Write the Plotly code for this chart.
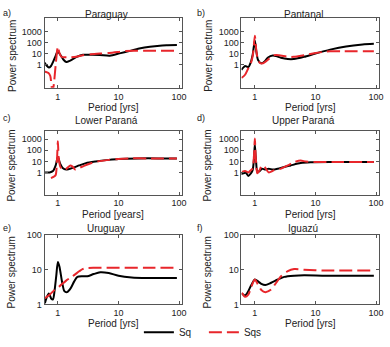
import plotly.graph_objects as go

W, H = 390, 347

# ---------------- data ----------------
panel_names = ["Paraguay", "Pantanal", "Lower Paraná", "Upper Paraná", "Uruguay", "Iguazú"]
panel_letters = ["a)", "b)", "c)", "d)", "e)", "f)"]
x_titles = ["Period [yrs]", "Period [yrs]", "Period [years]", "Period [yrs]", "Period [yrs]", "Period [yrs]"]
x_tick_vals = [1, 10, 100]
y_tick_vals_top = [1, 10, 100, 1000]
y_tick_vals_bottom = [1, 10, 100]

# a) Paraguay
para_sq_p = [0.6, 0.65, 0.71, 0.77, 0.83, 0.9, 0.96, 1.0, 1.05, 1.14, 1.25, 1.38, 1.6, 2.0, 2.6, 3.5, 4.9, 7.2, 10.4, 15, 22, 33, 48, 65, 92]
para_sq_v = [1.6, 0.9, 0.58, 0.8, 1.8, 5, 12, 18.6, 12, 6, 2.8, 1.8, 2.5, 5, 8.3, 8.2, 8, 6.8, 11, 18, 30, 44, 55, 59, 62]
para_sqs_p = [0.6, 0.7, 0.75, 0.79, 0.82, 0.86, 0.92, 1.0, 1.06, 1.14, 1.3, 1.6, 2.0, 2.6, 3.5, 5, 7, 10, 13, 20, 40, 92]
para_sqs_v = [0.26, 0.19, 0.1, 0.01, 0.004, 0.02, 1, 45, 12, 5.5, 5, 5, 5.5, 7.5, 9, 10.5, 12, 15, 18, 18.6, 18.6, 18.6]

# b) Pantanal
pant_sq_p = [0.6, 0.65, 0.69, 0.74, 0.78, 0.85, 0.92, 1.0, 1.06, 1.13, 1.28, 1.45, 1.65, 1.98, 2.25, 2.7, 3.5, 4.4, 6.5, 10, 17.5, 32, 60, 92]
pant_sq_v = [0.36, 0.6, 0.8, 0.7, 0.62, 1.5, 8, 160, 15, 2.8, 1.4, 2, 4.7, 7, 6.2, 4.4, 3.4, 3.4, 5.4, 10.7, 24, 47, 70, 80]
pant_sqs_p = [0.6, 0.69, 0.78, 0.86, 0.93, 1.0, 1.05, 1.1, 1.2, 1.36, 1.75, 2.1, 2.5, 3.5, 4.4, 6.5, 10, 17.5, 30, 92]
pant_sqs_v = [0.066, 0.13, 0.5, 1.4, 8, 440, 30, 5.4, 1.6, 1.4, 3.9, 7.6, 7.6, 5.5, 5.4, 7.6, 12, 17, 17, 17]

# c) Lower Paraná
lpar_sq_p = [0.6, 0.73, 0.83, 0.92, 1.0, 1.09, 1.2, 1.37, 1.76, 2.25, 2.9, 4.2, 6.9, 10, 21, 45, 92]
lpar_sq_v = [1.07, 1.07, 1.4, 4.5, 27, 6.3, 2.7, 1.9, 2.7, 4.5, 7.2, 10, 14, 17, 19, 19, 19]
lpar_sqs_p = [0.77, 0.86, 0.92, 0.97, 1.0, 1.03, 1.1, 1.2, 1.33, 1.6, 1.75, 1.94, 2.3, 2.7, 3.5, 4.5, 6.9, 10, 15, 30, 92]
lpar_sqs_v = [0.33, 0.45, 0.63, 20, 630, 25, 3.3, 2, 1.9, 4.5, 3.5, 1.9, 2.8, 4.1, 7, 10, 14, 17, 19, 19, 19]

# d) Upper Paraná
upar_sq_p = [0.59, 0.65, 0.71, 0.78, 0.86, 0.92, 0.97, 1.0, 1.03, 1.05, 1.1, 1.2, 1.31, 1.49, 1.69, 1.98, 2.4, 3.06, 3.9, 5.7, 8.3, 17.5, 40, 92]
upar_sq_v = [0.77, 0.88, 1.0, 0.52, 0.88, 1.7, 20, 350, 30, 8.8, 1.2, 1.4, 2.3, 1.9, 2.3, 1.9, 2.3, 3.3, 4.5, 7.2, 8.5, 9, 9, 9]
upar_sqs_p = [0.61, 0.69, 0.78, 0.86, 0.92, 0.97, 1.0, 1.03, 1.06, 1.1, 1.2, 1.31, 1.45, 1.69, 2.1, 2.7, 3.5, 4.45, 5.7, 6.9, 9.4, 20, 92]
upar_sqs_v = [1.2, 1.4, 1.07, 1.7, 2.35, 40, 1100, 40, 4.5, 0.88, 1.7, 4.5, 3.3, 1.07, 1.7, 2.3, 4.5, 8.8, 12, 10, 9, 9, 9]

# e) Uruguay
urug_sq_p = [0.61, 0.65, 0.71, 0.78, 0.83, 0.88, 0.94, 1.0, 1.06, 1.18, 1.28, 1.42, 1.64, 1.86, 2.1, 2.55, 3.06, 3.9, 5.0, 6.9, 10, 16.5, 30, 92]
urug_sq_v = [1.07, 1.55, 2.06, 1.45, 1.4, 2.4, 6.5, 16.6, 12.4, 4.2, 2.4, 2.25, 3, 4.6, 6.2, 6.45, 6.45, 7.5, 8.4, 8.0, 6.7, 6.0, 5.8, 5.8]
urug_sqs_p = [0.61, 0.73, 0.88, 1.06, 1.37, 1.75, 2.25, 2.55, 3.06, 4.7, 10, 30, 92]
urug_sqs_v = [1.5, 1.9, 2.6, 3.3, 4.85, 6.45, 9, 10.4, 11.2, 11.3, 11.3, 11.3, 11.3]

# f) Iguazú
igua_sq_p = [0.61, 0.69, 0.78, 0.88, 1.0, 1.13, 1.28, 1.49, 1.86, 2.4, 3.06, 4.45, 6.5, 15, 92]
igua_sq_v = [2.06, 1.8, 2.4, 3.7, 5.2, 4.6, 3.9, 3.6, 4.2, 5.2, 6.2, 6.7, 6.9, 6.7, 6.7]
igua_sqs_p = [0.61, 0.69, 0.78, 0.88, 1.0, 1.13, 1.28, 1.49, 1.86, 2.25, 2.7, 3.5, 4.45, 6.5, 13.7, 92]
igua_sqs_v = [2.15, 1.65, 1.9, 3.3, 5.2, 3.7, 2.6, 2.25, 2.7, 4.2, 6.45, 9.1, 10.4, 10, 9.5, 9.5]

series = [
    (para_sq_p, para_sq_v, para_sqs_p, para_sqs_v),
    (pant_sq_p, pant_sq_v, pant_sqs_p, pant_sqs_v),
    (lpar_sq_p, lpar_sq_v, lpar_sqs_p, lpar_sqs_v),
    (upar_sq_p, upar_sq_v, upar_sqs_p, upar_sqs_v),
    (urug_sq_p, urug_sq_v, urug_sqs_p, urug_sqs_v),
    (igua_sq_p, igua_sq_v, igua_sqs_p, igua_sqs_v),
]

# ---------------- layout ----------------
FONT = "Liberation Sans, Arial, Helvetica, sans-serif"
TXT = "#222"
col_px = [(45, 184), (244, 383)]
row_px = [(14, 86), (131, 197), (239, 311)]
y_ranges = [[-2.06, 4.19], [-1.95, 3.71], [0, 2]]
x_range = [-0.22, 2.05]

RED = "#e8262b"

fig = go.Figure()
annotations = []


def px_x(x):
    return x / W


def px_y(y):
    return 1 - y / H


for i in range(6):
    r, c = divmod(i, 2)
    n = i + 1
    xa = "x" if n == 1 else f"x{n}"
    ya = "y" if n == 1 else f"y{n}"
    sq_p, sq_v, sqs_p, sqs_v = series[i]
    fig.add_trace(go.Scatter(x=sq_p, y=sq_v, mode="lines", name="Sq",
                             line=dict(color="black", width=2, shape="spline", smoothing=0.7),
                             showlegend=(i == 0), xaxis=xa, yaxis=ya))
    fig.add_trace(go.Scatter(x=sqs_p, y=sqs_v, mode="lines", name="Sqs",
                             line=dict(color=RED, width=2, dash="13px,5px", shape="spline", smoothing=0.7),
                             showlegend=(i == 0), xaxis=xa, yaxis=ya))
    x0, x1 = col_px[c]
    y0, y1 = row_px[r]
    axis_common = dict(type="log", showline=True, linecolor="#555", linewidth=1, mirror="ticks",
                       ticks="inside", ticklen=3, tickcolor="#555", showgrid=False, zeroline=False,
                       ticklabeloverflow="allow",
                       tickfont=dict(size=9, color=TXT, family=FONT))
    fig.layout[("xaxis" if n == 1 else f"xaxis{n}")] = dict(
        axis_common, domain=[px_x(x0), px_x(x1)], range=x_range, tickvals=x_tick_vals,
        ticktext=[str(v) for v in x_tick_vals], anchor=ya)
    yt = y_tick_vals_top if r < 2 else y_tick_vals_bottom
    fig.layout[("yaxis" if n == 1 else f"yaxis{n}")] = dict(
        axis_common, domain=[px_y(y1), px_y(y0)], range=y_ranges[r], tickvals=yt,
        ticktext=[str(v) for v in yt], anchor=xa)

    # titles / labels
    title_y = [9.5, 120, 232][r]
    annotations.append(dict(text=panel_names[i], x=px_x((x0 + x1) / 2 - 7), y=px_y(title_y),
                            xref="paper", yref="paper", showarrow=False,
                            font=dict(size=10, family=FONT, color=TXT), xanchor="center", yanchor="middle"))
    lab_y = [8, 117, 232][r]
    annotations.append(dict(text=panel_letters[i], x=px_x([1, 197][c]), y=px_y(lab_y),
                            xref="paper", yref="paper", showarrow=False,
                            font=dict(size=9, family=FONT, color=TXT), xanchor="left", yanchor="middle"))
    xt_y = [106, 218, 331][r]
    annotations.append(dict(text=x_titles[i], x=px_x((x0 + x1) / 2), y=px_y(xt_y),
                            xref="paper", yref="paper", showarrow=False,
                            font=dict(size=10, family=FONT, color=TXT), xanchor="center", yanchor="middle"))
    annotations.append(dict(text="Power spectrum", x=px_x([12, 210][c]), y=px_y((y0 + y1) / 2 + 3),
                            xref="paper", yref="paper", showarrow=False, textangle=-90,
                            font=dict(size=10, family=FONT, color=TXT), xanchor="center", yanchor="middle"))

fig.update_layout(
    width=W, height=H, margin=dict(l=0, r=0, t=0, b=0),
    paper_bgcolor="white", plot_bgcolor="white",
    font=dict(family=FONT, size=10, color=TXT),
    annotations=annotations,
    showlegend=True,
    legend=dict(orientation="h", x=px_x(206), xanchor="center", y=px_y(340), yanchor="middle",
                font=dict(size=10, family=FONT, color=TXT), itemwidth=30, bgcolor="rgba(0,0,0,0)",
                entrywidth=20, tracegroupgap=0),
)

fig.write_html("out.html", config={"displayModeBar": False},
               post_script="document.body.style.margin='0';document.body.style.padding='0';document.documentElement.style.overflow='hidden';")
